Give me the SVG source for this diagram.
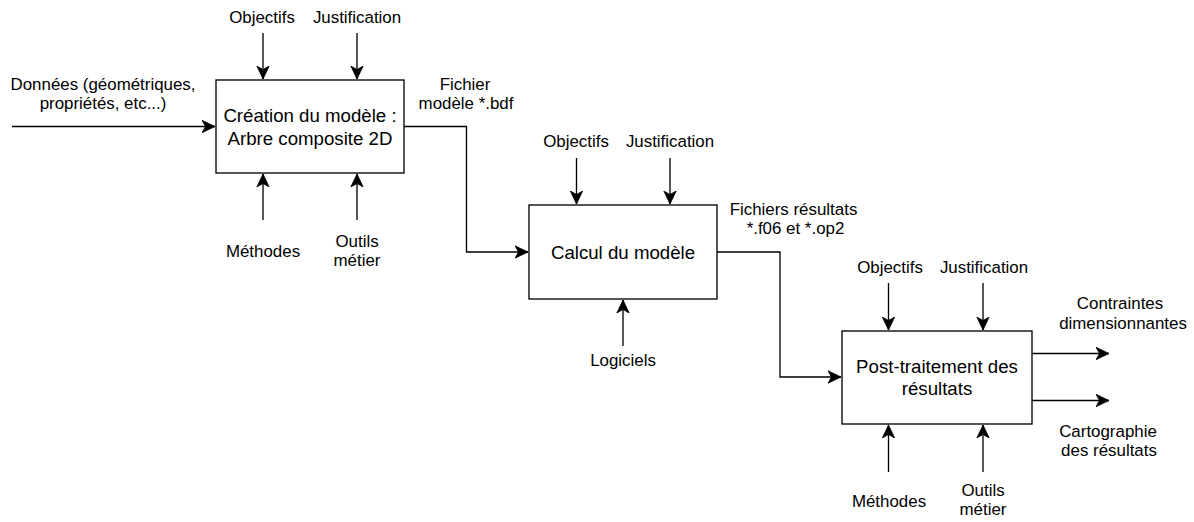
<svg xmlns="http://www.w3.org/2000/svg" width="1194" height="522" viewBox="0 0 1194 522">
<style>
.box{fill:#fff;stroke:#000;stroke-width:1.33}
.ln{fill:none;stroke:#000;stroke-width:1.33}
.lbl{font-family:"Liberation Sans",Arial,Helvetica,sans-serif;font-size:16.9px;fill:#000;text-anchor:middle}
.bt{font-family:"Liberation Sans",Arial,Helvetica,sans-serif;font-size:18.67px;fill:#000;text-anchor:middle}
</style>
<defs>
<marker id="arr" markerUnits="userSpaceOnUse" markerWidth="14" markerHeight="14" refX="13" refY="7" orient="auto">
<path d="M0,0.8 L13,7 L0,13.2 L3.5,7 Z" fill="#000" stroke="#000" stroke-width="0.8"/>
</marker>
</defs>
<rect width="1194" height="522" fill="#fff"/>
<g id="connectors">
<path class="ln" d="M12,126.5 H215" marker-end="url(#arr)"/>
<path class="ln" d="M263,33 V79" marker-end="url(#arr)"/>
<path class="ln" d="M357,33 V79" marker-end="url(#arr)"/>
<path class="ln" d="M263,220 V174" marker-end="url(#arr)"/>
<path class="ln" d="M357,220 V174" marker-end="url(#arr)"/>
<path class="ln" d="M404,126.5 H466.5 V252 H528" marker-end="url(#arr)"/>
<path class="ln" d="M576.5,158 V204" marker-end="url(#arr)"/>
<path class="ln" d="M670,158 V204" marker-end="url(#arr)"/>
<path class="ln" d="M623,346 V300" marker-end="url(#arr)"/>
<path class="ln" d="M717,252 H780 V377 H841" marker-end="url(#arr)"/>
<path class="ln" d="M888.5,283 V330" marker-end="url(#arr)"/>
<path class="ln" d="M983,283 V330" marker-end="url(#arr)"/>
<path class="ln" d="M888.5,472 V425" marker-end="url(#arr)"/>
<path class="ln" d="M983,472 V425" marker-end="url(#arr)"/>
<path class="ln" d="M1032,353.5 H1109" marker-end="url(#arr)"/>
<path class="ln" d="M1032,400.5 H1109" marker-end="url(#arr)"/>
</g>
<g id="labels">
<text class="lbl" x="262" y="23">Objectifs</text>
<text class="lbl" x="357" y="23">Justification</text>
<text class="lbl" x="103" y="90">Données (géométriques,</text>
<text class="lbl" x="103" y="109">propriétés, etc...)</text>
<text class="lbl" x="263" y="257">Méthodes</text>
<text class="lbl" x="357" y="247">Outils</text>
<text class="lbl" x="357" y="266">métier</text>
<text class="lbl" x="465" y="89.5">Fichier</text>
<text class="lbl" x="466" y="108.5">modèle *.bdf</text>
<text class="lbl" x="576" y="147">Objectifs</text>
<text class="lbl" x="670" y="147">Justification</text>
<text class="lbl" x="623" y="366">Logiciels</text>
<text class="lbl" x="793.5" y="214.5">Fichiers résultats</text>
<text class="lbl" x="795.5" y="233.5">*.f06 et *.op2</text>
<text class="lbl" x="890" y="273">Objectifs</text>
<text class="lbl" x="984" y="273">Justification</text>
<text class="lbl" x="889" y="507">Méthodes</text>
<text class="lbl" x="983" y="496">Outils</text>
<text class="lbl" x="983" y="515">métier</text>
<text class="lbl" x="1120" y="309">Contraintes</text>
<text class="lbl" x="1123" y="329">dimensionnantes</text>
<text class="lbl" x="1108" y="437">Cartographie</text>
<text class="lbl" x="1109" y="456">des résultats</text>
</g>
<g id="node-creation">
<rect class="box" x="216" y="80" width="188" height="93"/>
<text class="bt" x="310" y="122">Création du modèle :</text>
<text class="bt" x="310" y="144.5">Arbre composite 2D</text>
</g>
<g id="node-calcul">
<rect class="box" x="529" y="205" width="188" height="94"/>
<text class="bt" x="623" y="258.5">Calcul du modèle</text>
</g>
<g id="node-post">
<rect class="box" x="842" y="331" width="190" height="93"/>
<text class="bt" x="937" y="372.5">Post-traitement des</text>
<text class="bt" x="937" y="395">résultats</text>
</g>
</svg>
